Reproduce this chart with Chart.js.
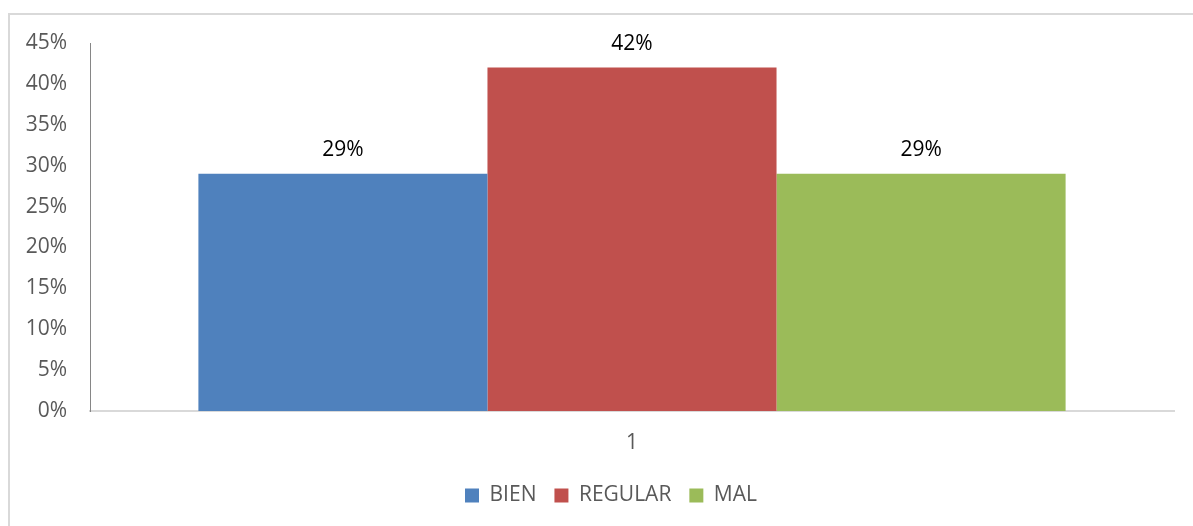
<!DOCTYPE html>
<html lang="es">
<head>
    <meta charset="UTF-8">
    <title>BIEN / REGULAR / MAL</title>
    <script src="https://cdn.jsdelivr.net/npm/chart.js"></script>
    <style>
        html, body { margin: 0; padding: 0; background: #fff; }
        #wrap { position: relative; width: 1193px; height: 526px; }
    </style>
</head>
<body>
    <div id="wrap"><canvas id="chart"></canvas></div>

    <script>
        // Data
        const categories = ['1'];
        const seriesNames = ['BIEN', 'REGULAR', 'MAL'];
        const seriesValues = [[29], [42], [29]];
        const seriesColors = ['#4F81BD', '#C0504D', '#9BBB59'];
        const yTicks = [0, 5, 10, 15, 20, 25, 30, 35, 40, 45];

        const FONT = '"Open Sans", "DejaVu Sans", sans-serif';

        // outer frame (top and left edges are the only visible parts)
        const framePlugin = {
            id: 'frame',
            beforeDraw(chart) {
                const ctx = chart.ctx;
                ctx.save();
                ctx.fillStyle = '#D9D9D9';
                ctx.fillRect(8, 13, 1193 - 8, 2);
                ctx.fillRect(8, 13, 2, 526 - 13);
                ctx.restore();
            }
        };

        // nudge the legend a bit to the right, as in the original
        const legendShift = {
            id: 'legendShift',
            afterLayout(chart) {
                if (chart.legend) {
                    chart.legend.left += 24;
                    chart.legend.right += 24;
                }
            }
        };

        // value labels above each bar
        const valueLabels = {
            id: 'valueLabels',
            afterDatasetsDraw(chart) {
                const ctx = chart.ctx;
                ctx.save();
                ctx.font = '21px ' + FONT;
                ctx.fillStyle = '#000000';
                ctx.textAlign = 'center';
                ctx.textBaseline = 'middle';
                chart.data.datasets.forEach((ds, i) => {
                    chart.getDatasetMeta(i).data.forEach((bar, j) => {
                        ctx.fillText(ds.data[j] + '%', bar.x, bar.y - 24);
                    });
                });
                ctx.restore();
            }
        };

        new Chart(document.getElementById('chart'), {
            type: 'bar',
            data: {
                labels: categories,
                datasets: seriesNames.map((name, i) => ({
                    label: name,
                    data: seriesValues[i],
                    backgroundColor: seriesColors[i],
                    borderWidth: 0,
                    categoryPercentage: 0.8,
                    barPercentage: 1.0
                }))
            },
            options: {
                responsive: true,
                maintainAspectRatio: false,
                animation: false,
                layout: { padding: { top: 43, right: 19, bottom: 10, left: 0 } },
                plugins: {
                    tooltip: { enabled: false },
                    legend: {
                        position: 'bottom',
                        labels: {
                            boxWidth: 14,
                            boxHeight: 14,
                            padding: 18,
                            color: '#595959',
                            font: { family: FONT, size: 21 }
                        }
                    }
                },
                scales: {
                    x: {
                        grid: { display: false, drawTicks: false },
                        border: { display: true, color: '#D9D9D9', width: 2 },
                        ticks: {
                            color: '#595959',
                            padding: 19,
                            font: { family: FONT, size: 21 }
                        },
                        afterFit(scale) { scale.height = 56; }
                    },
                    y: {
                        min: 0,
                        max: 45,
                        afterBuildTicks(scale) {
                            scale.ticks = yTicks.map(v => ({ value: v }));
                        },
                        grid: { display: false, drawTicks: false },
                        border: { display: true, color: '#868686', width: 1 },
                        ticks: {
                            color: '#595959',
                            padding: 23,
                            font: { family: FONT, size: 21 },
                            callback: v => v + '%'
                        },
                        afterFit(scale) { scale.width = 90; }
                    }
                }
            },
            plugins: [framePlugin, legendShift, valueLabels]
        });
    </script>
</body>
</html>
